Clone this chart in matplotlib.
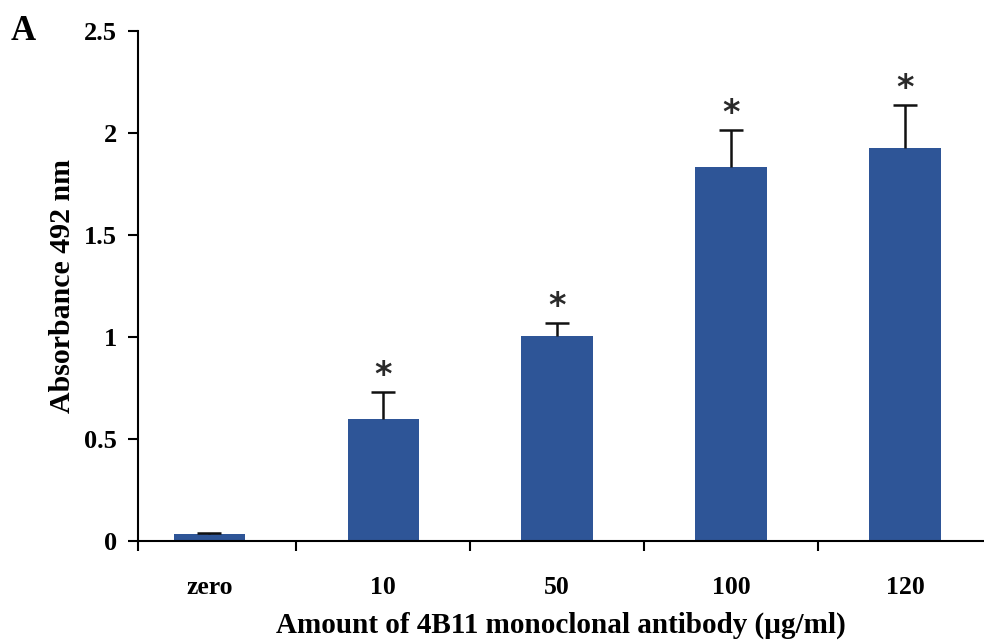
import matplotlib
matplotlib.use("Agg")
import matplotlib.pyplot as plt
from matplotlib.ticker import FuncFormatter

categories = ["zero", "10", "50", "100", "120"]
means = [0.035, 0.598, 1.005, 1.833, 1.926]
errors = [0.005, 0.132, 0.064, 0.182, 0.211]
significant = [False, True, True, True, True]
yticks = [0, 0.5, 1, 1.5, 2, 2.5]

plt.rcParams['font.family'] = ['Liberation Serif', 'DejaVu Serif']
plt.rcParams['font.weight'] = 'bold'

fig = plt.figure(figsize=(9.84, 6.41), dpi=100)
ax = fig.add_axes([138/984, 1-541/641, 1-138/984, (541-31)/641])

x = list(range(len(categories)))
bar_color = "#2E5597"
ax.bar(x, means, width=0.41, color=bar_color, zorder=2)
eb = ax.errorbar(x, means, yerr=[[0]*len(errors), errors], fmt='none',
                 ecolor='#111111', elinewidth=1.8, capsize=8.5, capthick=1.8, zorder=3)
eb.lines[1][0].set_visible(False)

for xi, m, e, s in zip(x, means, errors, significant):
    if s:
        ax.annotate("*", (xi, m + e), xytext=(0, 0), textcoords='offset points',
                    ha='center', va='bottom', fontsize=24, color='#2a2a2a',
                    family='DejaVu Sans', fontweight='bold')

ax.set_ylim(0, 2.5)
ax.set_xlim(-0.41, 4.455)
ax.set_yticks(yticks)
ax.yaxis.set_major_formatter(FuncFormatter(lambda v, p: "%g" % v))

ax.set_xticks([-0.41, 0.5, 1.5, 2.5, 3.5])
ax.set_xticklabels([])
ax.set_xticks(x, minor=True)
ax.set_xticklabels(categories, minor=True)
ax.tick_params(axis='x', which='major', direction='out', length=7, width=1.5)
ax.tick_params(axis='x', which='minor', length=0, pad=25, labelsize=18.5)
ax.tick_params(axis='y', direction='out', length=7, width=1.5, labelsize=19, pad=8)

for sp in ['top', 'right']:
    ax.spines[sp].set_visible(False)
for sp in ['left', 'bottom']:
    ax.spines[sp].set_linewidth(1.5)

ax.set_ylabel("Absorbance 492 nm", fontsize=21.5, fontweight='bold', labelpad=6)
ax.set_xlabel("Amount of 4B11 monoclonal antibody (\u00b5g/ml)", fontsize=21,
              fontweight='bold', labelpad=9)

fig.text(11/984, 1-40/641, "A", fontsize=25, fontweight='bold', ha='left', va='baseline')

fig.savefig("out.png", dpi=100)
